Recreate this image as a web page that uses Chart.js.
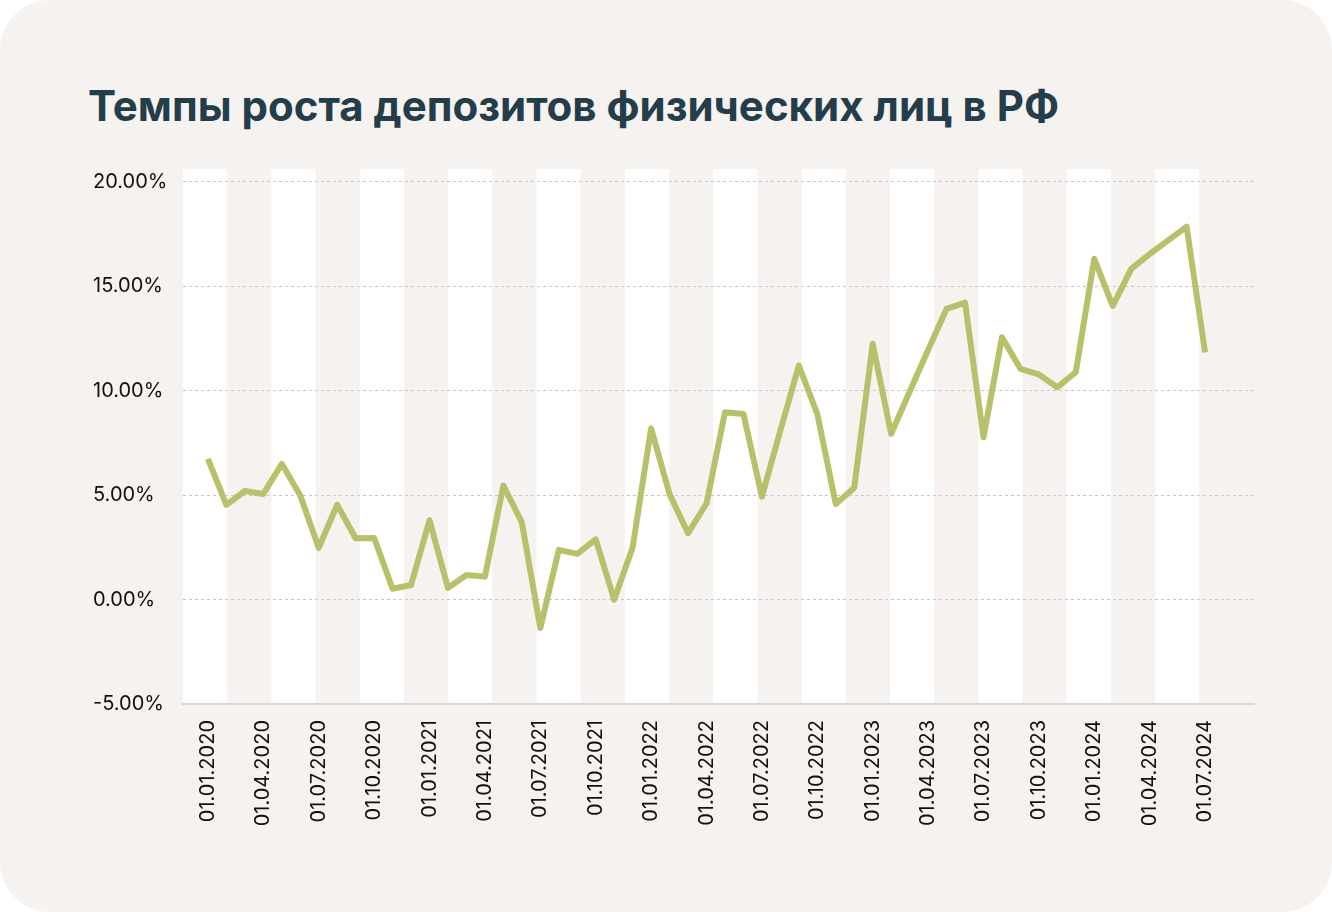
<!DOCTYPE html>
<html>
<head>
<meta charset="utf-8">
<script src="https://cdn.jsdelivr.net/npm/chart.js@4.4.1/dist/chart.umd.min.js"></script>
<style>
html,body{margin:0;padding:0;background:#ffffff;}
#card{position:absolute;left:0;top:0;width:1332px;height:912px;background:#f5f2ef;border-radius:50px;overflow:hidden;}
#title{position:absolute;left:88px;top:85px;margin:0;font-family:Inter,"Noto Sans",sans-serif;font-weight:700;font-size:42px;line-height:42px;color:#243d4a;white-space:nowrap;}
#c{position:absolute;left:0;top:0;}
</style>
</head>
<body>
<div id="card">
  <h1 id="title">Темпы роста депозитов физических лиц в РФ</h1>
  <canvas id="c" width="1332" height="912"></canvas>
</div>
<script>
// Monthly categories (01.01.2020 ... 01.07.2024)
const MONTHS = [
  "01.01.2020","01.02.2020","01.03.2020","01.04.2020","01.05.2020","01.06.2020",
  "01.07.2020","01.08.2020","01.09.2020","01.10.2020","01.11.2020","01.12.2020",
  "01.01.2021","01.02.2021","01.03.2021","01.04.2021","01.05.2021","01.06.2021",
  "01.07.2021","01.08.2021","01.09.2021","01.10.2021","01.11.2021","01.12.2021",
  "01.01.2022","01.02.2022","01.03.2022","01.04.2022","01.05.2022","01.06.2022",
  "01.07.2022","01.08.2022","01.09.2022","01.10.2022","01.11.2022","01.12.2022",
  "01.01.2023","01.02.2023","01.03.2023","01.04.2023","01.05.2023","01.06.2023",
  "01.07.2023","01.08.2023","01.09.2023","01.10.2023","01.11.2023","01.12.2023",
  "01.01.2024","01.02.2024","01.03.2024","01.04.2024","01.05.2024","01.06.2024",
  "01.07.2024"
];
// Growth rate of household deposits, %
const GROWTH = [
  6.74, 4.54, 5.20, 5.06, 6.50, 4.98,
  2.48, 4.54, 2.94, 2.95, 0.52, 0.70,
  3.80, 0.56, 1.18, 1.10, 5.46, 3.70,
  -1.36, 2.38, 2.19, 2.88, 0.00, 2.50,
  8.20, 5.05, 3.18, 4.60, 8.97, 8.89,
  4.93, 8.10, 11.21, 8.89, 4.58, 5.36,
  12.25, 7.94, 9.95, 11.95, 13.92, 14.22,
  7.77, 12.56, 11.05, 10.78, 10.17, 10.89,
  16.32, 14.06, 15.84, 16.55, 17.20, 17.86,
  11.84
];
// Labelled x ticks (quarter starts, as month indices)
const X_TICKS = [0,3,6,9,12,15,18,21,24,27,30,33,36,39,42,45,48,51,54];
// y ticks, %
const Y_TICKS = [-5,0,5,10,15,20];

const X_MIN = -1.35, X_MAX = 56.65;
const Y_MIN = -5, Y_MAX = 20.62;
const BAND_WIDTH = 2.393;   // width of each alternating background band, in months
const BAND_COUNT = 12;

const bandsPlugin = {
  id: 'bands',
  beforeDraw(chart) {
    const {ctx, chartArea: a, scales: {x}} = chart;
    ctx.save();
    ctx.fillStyle = '#ffffff';
    for (let k = 0; k < BAND_COUNT; k++) {
      const x0 = x.getPixelForValue(X_MIN + 2 * k * BAND_WIDTH);
      const x1 = x.getPixelForValue(X_MIN + (2 * k + 1) * BAND_WIDTH);
      ctx.fillRect(x0, a.top, x1 - x0, a.bottom - a.top);
    }
    ctx.restore();
  }
};

const tickFont = {family: 'Inter', size: 20, weight: 400};

new Chart(document.getElementById('c'), {
  type: 'line',
  data: {
    datasets: [{
      data: GROWTH.map((v, i) => ({x: i, y: v})),
      borderColor: '#b9c06b',
      borderWidth: 6,
      pointRadius: 0,
      tension: 0,
      borderJoinStyle: 'round',
      borderCapStyle: 'butt',
      fill: false
    }]
  },
  options: {
    responsive: false,
    animation: false,
    devicePixelRatio: 1,
    layout: {padding: {left: 93, right: 78, top: 169, bottom: 0}},
    plugins: {legend: {display: false}, tooltip: {enabled: false}, title: {display: false}},
    scales: {
      x: {
        type: 'linear',
        min: X_MIN,
        max: X_MAX,
        afterBuildTicks: s => { s.ticks = X_TICKS.map(v => ({value: v})); },
        afterFit: s => { s.height = 208; },
        ticks: {
          autoSkip: false,
          minRotation: 90,
          maxRotation: 90,
          padding: 16,
          color: '#111111',
          font: tickFont,
          callback: v => MONTHS[v]
        },
        grid: {display: false, drawTicks: false},
        border: {display: true, color: '#d5d3e4', width: 2}
      },
      y: {
        min: Y_MIN,
        max: Y_MAX,
        afterBuildTicks: s => { s.ticks = Y_TICKS.map(v => ({value: v})); },
        afterFit: s => { s.width = 90; },
        ticks: {
          crossAlign: 'far',
          padding: 0,
          color: '#111111',
          font: tickFont,
          callback: v => v.toFixed(2) + '%'
        },
        grid: {
          drawTicks: false,
          lineWidth: 1,
          color: c => (c.tick && c.tick.value === Y_MIN) ? 'rgba(0,0,0,0)' : '#c9c5d4'
        },
        border: {display: false, dash: [3, 3]}
      }
    }
  },
  plugins: [bandsPlugin]
});
</script>
</body>
</html>
